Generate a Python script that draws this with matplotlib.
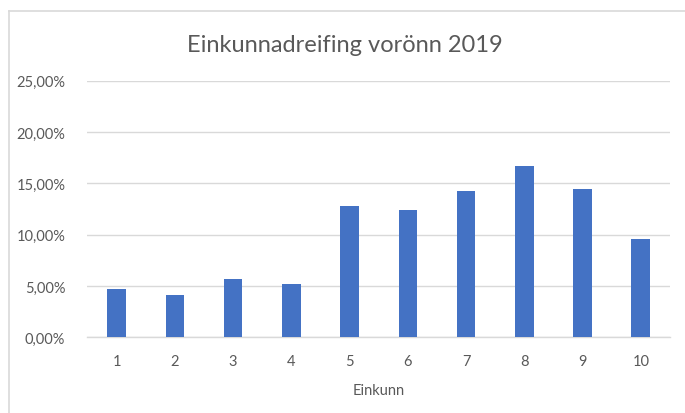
import matplotlib
matplotlib.use("Agg")
import matplotlib.pyplot as plt
from matplotlib.lines import Line2D
from matplotlib.ticker import FuncFormatter

plt.rcParams["font.family"] = ["Lato", "DejaVu Sans"]

# Einkunnir og hlutfall nemenda
einkunnir = ["1", "2", "3", "4", "5", "6", "7", "8", "9", "10"]
hlutfall = [0.0474, 0.0415, 0.0571, 0.0517, 0.1277, 0.1238, 0.1423, 0.1673, 0.1448, 0.0961]
y_ticks = [0.0, 0.05, 0.10, 0.15, 0.20, 0.25]

BAR = "#4472C4"
GRID = "#D9D9D9"
TXT = "#595959"

fig = plt.figure(figsize=(6.85, 4.14), dpi=100)
ax = fig.add_axes([0.1277, 0.1829, 0.8503, 0.6195])

x = list(range(1, len(einkunnir) + 1))
ax.bar(x, hlutfall, width=0.32, color=BAR, zorder=3)

ax.set_xlim(0.5, 10.5)
ax.set_ylim(0, 0.25)
ax.set_yticks(y_ticks)
ax.yaxis.set_major_formatter(FuncFormatter(lambda v, p: f"{v*100:.2f}%".replace(".", ",")))
ax.set_xticks(x)
ax.set_xticklabels(einkunnir)

ax.grid(axis="y", color=GRID, linewidth=1.0, zorder=0)
for s in ["top", "right", "left"]:
    ax.spines[s].set_visible(False)
ax.spines["bottom"].set_color(GRID)
ax.spines["bottom"].set_linewidth(1.0)
ax.tick_params(axis="both", length=0, colors=TXT, labelsize=10.5)
ax.tick_params(axis="y", pad=16)
ax.tick_params(axis="x", pad=12)

ax.set_xlabel("Einkunn", color=TXT, fontsize=10.5, labelpad=11)
fig.text(0.504, 0.891, "Einkunnadreifing vorönn 2019", ha="center", va="center",
         color=TXT, fontsize=17)

# ramminn um myndina (vinstri og efri brún)
fig.add_artist(Line2D([0.0125, 0.0125], [0, 0.972], transform=fig.transFigure, color=GRID, linewidth=1.2))
fig.add_artist(Line2D([0.0125, 1.0], [0.972, 0.972], transform=fig.transFigure, color=GRID, linewidth=1.2))

fig.savefig("out.png", dpi=100)
